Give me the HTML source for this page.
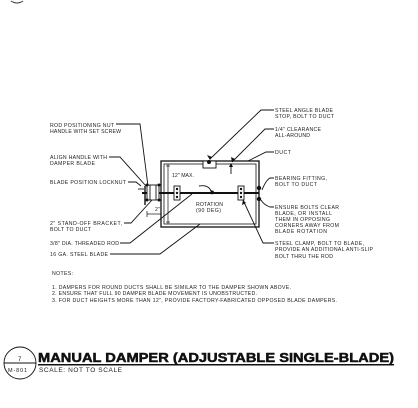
<!DOCTYPE html>
<html><head><style>
html,body{margin:0;padding:0;background:#fff;}
svg{display:block;}
text{font-family:"Liberation Sans",Arial,sans-serif;font-size:5.2px;fill:#222;}
</style></head><body>
<svg width="418" height="408" viewBox="0 0 418 408" xmlns="http://www.w3.org/2000/svg">
<path d="M11 1 Q17 5 23 1" fill="none" stroke="#333" stroke-width="1"/>
<g stroke="#111" fill="none" stroke-width="0.9">
<rect x="161" y="161" width="98" height="66" stroke-width="1.3"/>
<rect x="164" y="164" width="92" height="60" stroke-width="0.8"/>
<line x1="168" y1="164" x2="168" y2="224" stroke-width="0.7"/>
<line x1="166" y1="166" x2="170" y2="166" stroke-width="0.7"/>
<line x1="166" y1="222" x2="170" y2="222" stroke-width="0.7"/>
<line x1="142" y1="193" x2="259" y2="193" stroke-width="2"/>
<rect x="174" y="186" width="6" height="14" fill="#fff"/>
<rect x="238" y="186" width="6" height="14" fill="#fff"/>
<rect x="147" y="185" width="12" height="15" fill="#fff"/>
<line x1="150" y1="185" x2="150" y2="200"/>
<line x1="156" y1="185" x2="156" y2="200"/>
<line x1="145" y1="186" x2="145" y2="205" stroke-width="1.4"/>
<line x1="138" y1="189" x2="144" y2="189"/>
<rect x="203" y="161" width="13" height="7" fill="#fff"/>
<line x1="231" y1="174" x2="231" y2="165"/>
<line x1="147" y1="214" x2="161" y2="214" stroke-width="0.7"/>
<line x1="147" y1="211" x2="147" y2="217" stroke-width="0.7"/>
<path d="M199 186 Q210 184 212 194"/>
<polyline points="116,124 140,124 148,186"/>
<polyline points="109,157 120,157 146,186"/>
<polyline points="128,182 136,182 141,186"/>
<polyline points="124,223 131,223 152,200"/>
<polyline points="120,243 130,243 192,194"/>
<polyline points="110,254 160,254 200,224"/>
<polyline points="274,110 261,110 210,159"/>
<polyline points="274,129 265,129 232,162"/>
<polyline points="274,152 266,152 248,161"/>
<path d="M274 178 L270 178 Q266 180 262 190"/>
<path d="M274 207 L270 207 Q264 205 261 200"/>
<polyline points="274,243 263,243 243,200"/>
<circle cx="20" cy="363" r="16"/>
<line x1="4" y1="363" x2="36" y2="363"/>
</g>
<g fill="#111">
<circle cx="209" cy="162" r="2"/>
<circle cx="177" cy="189" r="1.2"/><circle cx="177" cy="193" r="1.2"/><circle cx="177" cy="197" r="1.2"/>
<circle cx="241" cy="189" r="1.2"/><circle cx="241" cy="193" r="1.2"/><circle cx="241" cy="197" r="1.2"/>
<circle cx="147" cy="185" r="1.5"/><circle cx="159" cy="185" r="1.5"/><circle cx="147" cy="200" r="1.5"/><circle cx="159" cy="200" r="1.5"/>
<circle cx="259" cy="188" r="2.2"/><circle cx="259" cy="199" r="2.2"/>
<polygon points="231,163 229,167 233,167"/>
<polygon points="210,160 207,155 212,157"/>
<polygon points="232,162 231,157 235,159"/>
<polygon points="243,200 242,205 246,203"/>
<polygon points="212,195 210,190 214,191"/>
</g>
<rect x="38" y="364" width="356" height="1.5" fill="#111"/>
<text x="50" y="127" textLength="64">ROD POSITIONING NUT</text>
<text x="50" y="133" textLength="71">HANDLE WITH SET SCREW</text>
<text x="50" y="159" textLength="57">ALIGN HANDLE WITH</text>
<text x="50" y="165" textLength="45">DAMPER BLADE</text>
<text x="50" y="184" textLength="76">BLADE POSITION LOCKNUT</text>
<text x="50" y="225" textLength="72">2" STAND-OFF BRACKET,</text>
<text x="50" y="231" textLength="41">BOLT TO DUCT</text>
<text x="50" y="245" textLength="69">3/8" DIA. THREADED ROD</text>
<text x="50" y="256" textLength="58">16 GA. STEEL BLADE</text>
<text x="172" y="177" textLength="22">12" MAX.</text>
<text x="155" y="211">2"</text>
<text x="196" y="206" textLength="27">ROTATION</text>
<text x="196" y="212" textLength="25">(90 DEG)</text>
<text x="275" y="112" textLength="58">STEEL ANGLE BLADE</text>
<text x="275" y="118" textLength="59">STOP, BOLT TO DUCT</text>
<text x="275" y="131" textLength="46">1/4" CLEARANCE</text>
<text x="275" y="137" textLength="35">ALL-AROUND</text>
<text x="275" y="154" textLength="16">DUCT</text>
<text x="275" y="180" textLength="52">BEARING FITTING,</text>
<text x="275" y="186" textLength="42">BOLT TO DUCT</text>
<text x="275" y="209" textLength="64">ENSURE BOLTS CLEAR</text>
<text x="275" y="215" textLength="57">BLADE, OR INSTALL</text>
<text x="275" y="221" textLength="55">THEM IN OPPOSING</text>
<text x="275" y="227" textLength="64">CORNERS AWAY FROM</text>
<text x="275" y="233" textLength="52">BLADE ROTATION</text>
<text x="275" y="245" textLength="89">STEEL CLAMP, BOLT TO BLADE,</text>
<text x="275" y="251" textLength="98">PROVIDE AN ADDITIONAL ANTI-SLIP</text>
<text x="275" y="258" textLength="58">BOLT THRU THE ROD</text>
<text x="52" y="275" textLength="21">NOTES:</text>
<text x="52" y="289" textLength="239">1. DAMPERS FOR ROUND DUCTS SHALL BE SIMILAR TO THE DAMPER SHOWN ABOVE.</text>
<text x="52" y="295" textLength="205">2. ENSURE THAT FULL 90 DAMPER BLADE MOVEMENT IS UNOBSTRUCTED.</text>
<text x="52" y="302" textLength="285">3. FOR DUCT HEIGHTS MORE THAN 12", PROVIDE FACTORY-FABRICATED OPPOSED BLADE DAMPERS.</text>
<text x="38" y="362" textLength="356" lengthAdjust="spacingAndGlyphs" style="font-size:13px;font-weight:bold;fill:#111;stroke:#111;stroke-width:0.5">MANUAL DAMPER (ADJUSTABLE SINGLE-BLADE)</text>
<text x="39" y="372" textLength="83" style="font-size:6.5px">SCALE: NOT TO SCALE</text>
<text x="18" y="361" style="font-size:6px">7</text>
<text x="8" y="372" style="font-size:5.5px" textLength="19">M-801</text>
</svg>
</body></html>
